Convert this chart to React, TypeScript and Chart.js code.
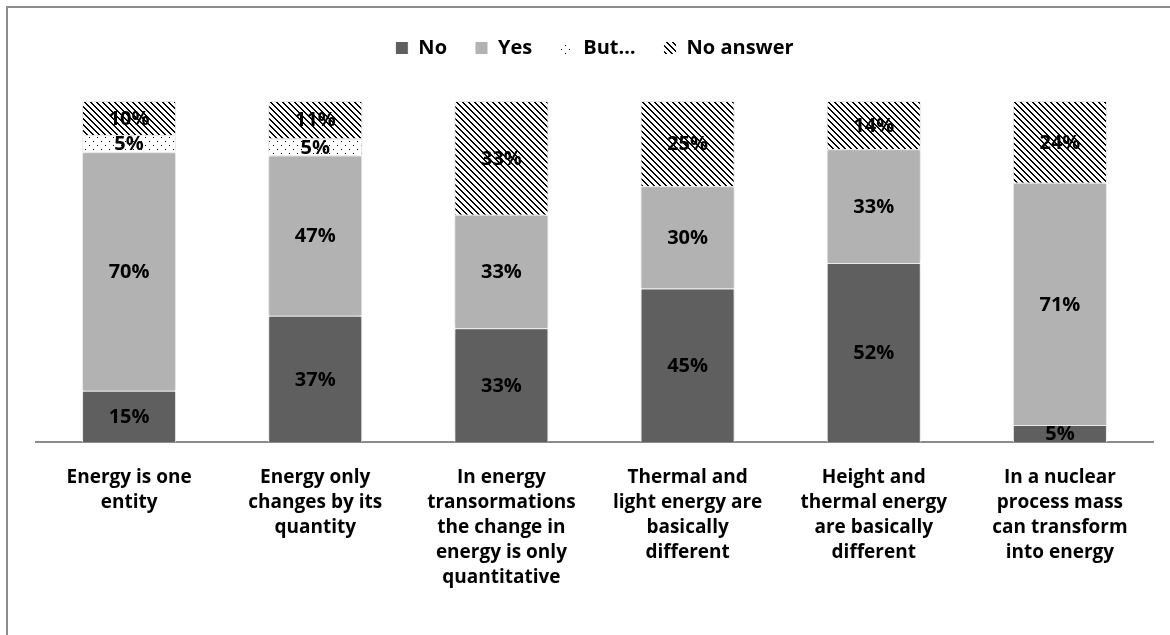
import React, { useEffect, useRef } from "react";
import { Chart, registerables } from "chart.js";

Chart.register(...registerables);

const categories: string[][] = [
  ["Energy is one", "entity"],
  ["Energy only", "changes by its", "quantity"],
  ["In energy", "transormations", "the change in", "energy is only", "quantitative"],
  ["Thermal and", "light energy are", "basically", "different"],
  ["Height and", "thermal energy", "are basically", "different"],
  ["In a nuclear", "process mass", "can transform", "into energy"],
];

const seriesNames = ["No", "Yes", "But…", "No answer"];
const noValues = [15, 37, 33, 45, 52, 5];
const yesValues = [70, 47, 33, 30, 33, 71];
const butValues = [5, 5, 0, 0, 0, 0];
const noAnswerValues = [10, 11, 33, 25, 14, 24];

const FONT = "'Open Sans', Lato, sans-serif";

function makeDiagPattern(): CanvasPattern | string {
  const c = document.createElement("canvas");
  const p = 6;
  c.width = p;
  c.height = p;
  const g = c.getContext("2d");
  if (!g) return "#888";
  g.fillStyle = "#ffffff";
  g.fillRect(0, 0, p, p);
  g.fillStyle = "#000000";
  for (let y = 0; y < p; y++) {
    for (let x = 0; x < p; x++) {
      const d = (((x - y) % p) + p) % p;
      if (d === 0 || d === 1) g.fillRect(x, y, 1, 1);
    }
  }
  return g.createPattern(c, "repeat") || "#888";
}

function makeDotPattern(): CanvasPattern | string {
  const c = document.createElement("canvas");
  c.width = 8;
  c.height = 8;
  const g = c.getContext("2d");
  if (!g) return "#eee";
  g.fillStyle = "#ffffff";
  g.fillRect(0, 0, 8, 8);
  g.fillStyle = "#000000";
  g.fillRect(1, 1, 1, 1);
  g.fillRect(5, 5, 1, 1);
  return g.createPattern(c, "repeat") || "#eee";
}

export default function App() {
  const ref = useRef<HTMLCanvasElement | null>(null);

  useEffect(() => {
    if (!ref.current) return;
    const raw = [noValues, yesValues, butValues, noAnswerValues];
    const totals = categories.map((_, i) => raw.reduce((s, arr) => s + arr[i], 0));
    const norm = raw.map((arr) => arr.map((v, i) => (v / totals[i]) * 100));
    const colors = ["#5f5f5f", "#b2b2b2", makeDotPattern(), makeDiagPattern()];

    const framePlugin = {
      id: "frame",
      beforeDraw(chart: any) {
        const ctx = chart.ctx;
        ctx.save();
        ctx.fillStyle = "#8c8c8c";
        ctx.fillRect(6, 6, 2, chart.height);
        ctx.fillRect(6, 6, chart.width, 2);
        ctx.restore();
      },
    };

    const legendGapPlugin = {
      id: "legendGap",
      beforeInit(chart: any) {
        const orig = chart.legend.fit;
        chart.legend.fit = function () {
          orig.bind(chart.legend)();
          this.height += 33;
        };
      },
    };

    const shadowPlugin = {
      id: "barShadow",
      beforeDatasetsDraw(chart: any) {
        const ctx = chart.ctx;
        ctx.save();
        ctx.shadowColor = "rgba(0,0,0,0.22)";
        ctx.shadowBlur = 4;
      },
      afterDatasetsDraw(chart: any) {
        chart.ctx.restore();
      },
    };

    const labelPlugin = {
      id: "segLabels",
      afterDatasetsDraw(chart: any) {
        const ctx = chart.ctx;
        ctx.save();
        ctx.font = `bold 20px ${FONT}`;
        ctx.fillStyle = "#000";
        ctx.textAlign = "center";
        ctx.textBaseline = "middle";
        chart.data.datasets.forEach((ds: any, di: number) => {
          const meta = chart.getDatasetMeta(di);
          meta.data.forEach((bar: any, i: number) => {
            const v = raw[di][i];
            if (!v) return;
            const y = (bar.y + bar.base) / 2;
            ctx.fillText(`${v}%`, bar.x, y + 1);
          });
        });
        ctx.restore();
      },
    };

    const chart = new Chart(ref.current, {
      type: "bar",
      data: {
        labels: categories,
        datasets: seriesNames.map((name, k) => ({
          label: name,
          data: norm[k],
          backgroundColor: colors[k] as any,
          borderColor: "#ffffff",
          borderWidth: 1,
          categoryPercentage: 1,
          barPercentage: 0.505,
        })),
      },
      options: {
        responsive: false,
        animation: false,
        events: [],
        layout: { padding: { left: 36, right: 17, top: 10, bottom: 0 } },
        plugins: {
          legend: {
            display: true,
            position: "top",
            labels: {
              boxWidth: 13,
              boxHeight: 13,
              padding: 28,
              color: "#000",
              font: { family: FONT, size: 20, weight: "bold" },
            },
          },
          tooltip: { enabled: false },
        },
        scales: {
          x: {
            stacked: true,
            grid: { display: false, drawTicks: false },
            border: { display: true, color: "#8c8c8c", width: 2 },
            ticks: {
              color: "#000",
              font: { family: FONT, size: 19, weight: "bold", lineHeight: "25px" } as any,
              padding: 23,
              maxRotation: 0,
              autoSkip: false,
            },
            afterFit: (scale: any) => {
              scale.height = 193;
            },
          },
          y: {
            stacked: true,
            display: false,
            min: 0,
            max: 100,
          },
        },
      },
      plugins: [framePlugin, legendGapPlugin, shadowPlugin, labelPlugin],
    });
    return () => chart.destroy();
  }, []);

  return (
    <div style={{ position: "fixed", left: 0, top: 0, width: 1170, height: 635, background: "#fff" }}>
      <canvas ref={ref} width={1170} height={635} style={{ display: "block" }} />
    </div>
  );
}
